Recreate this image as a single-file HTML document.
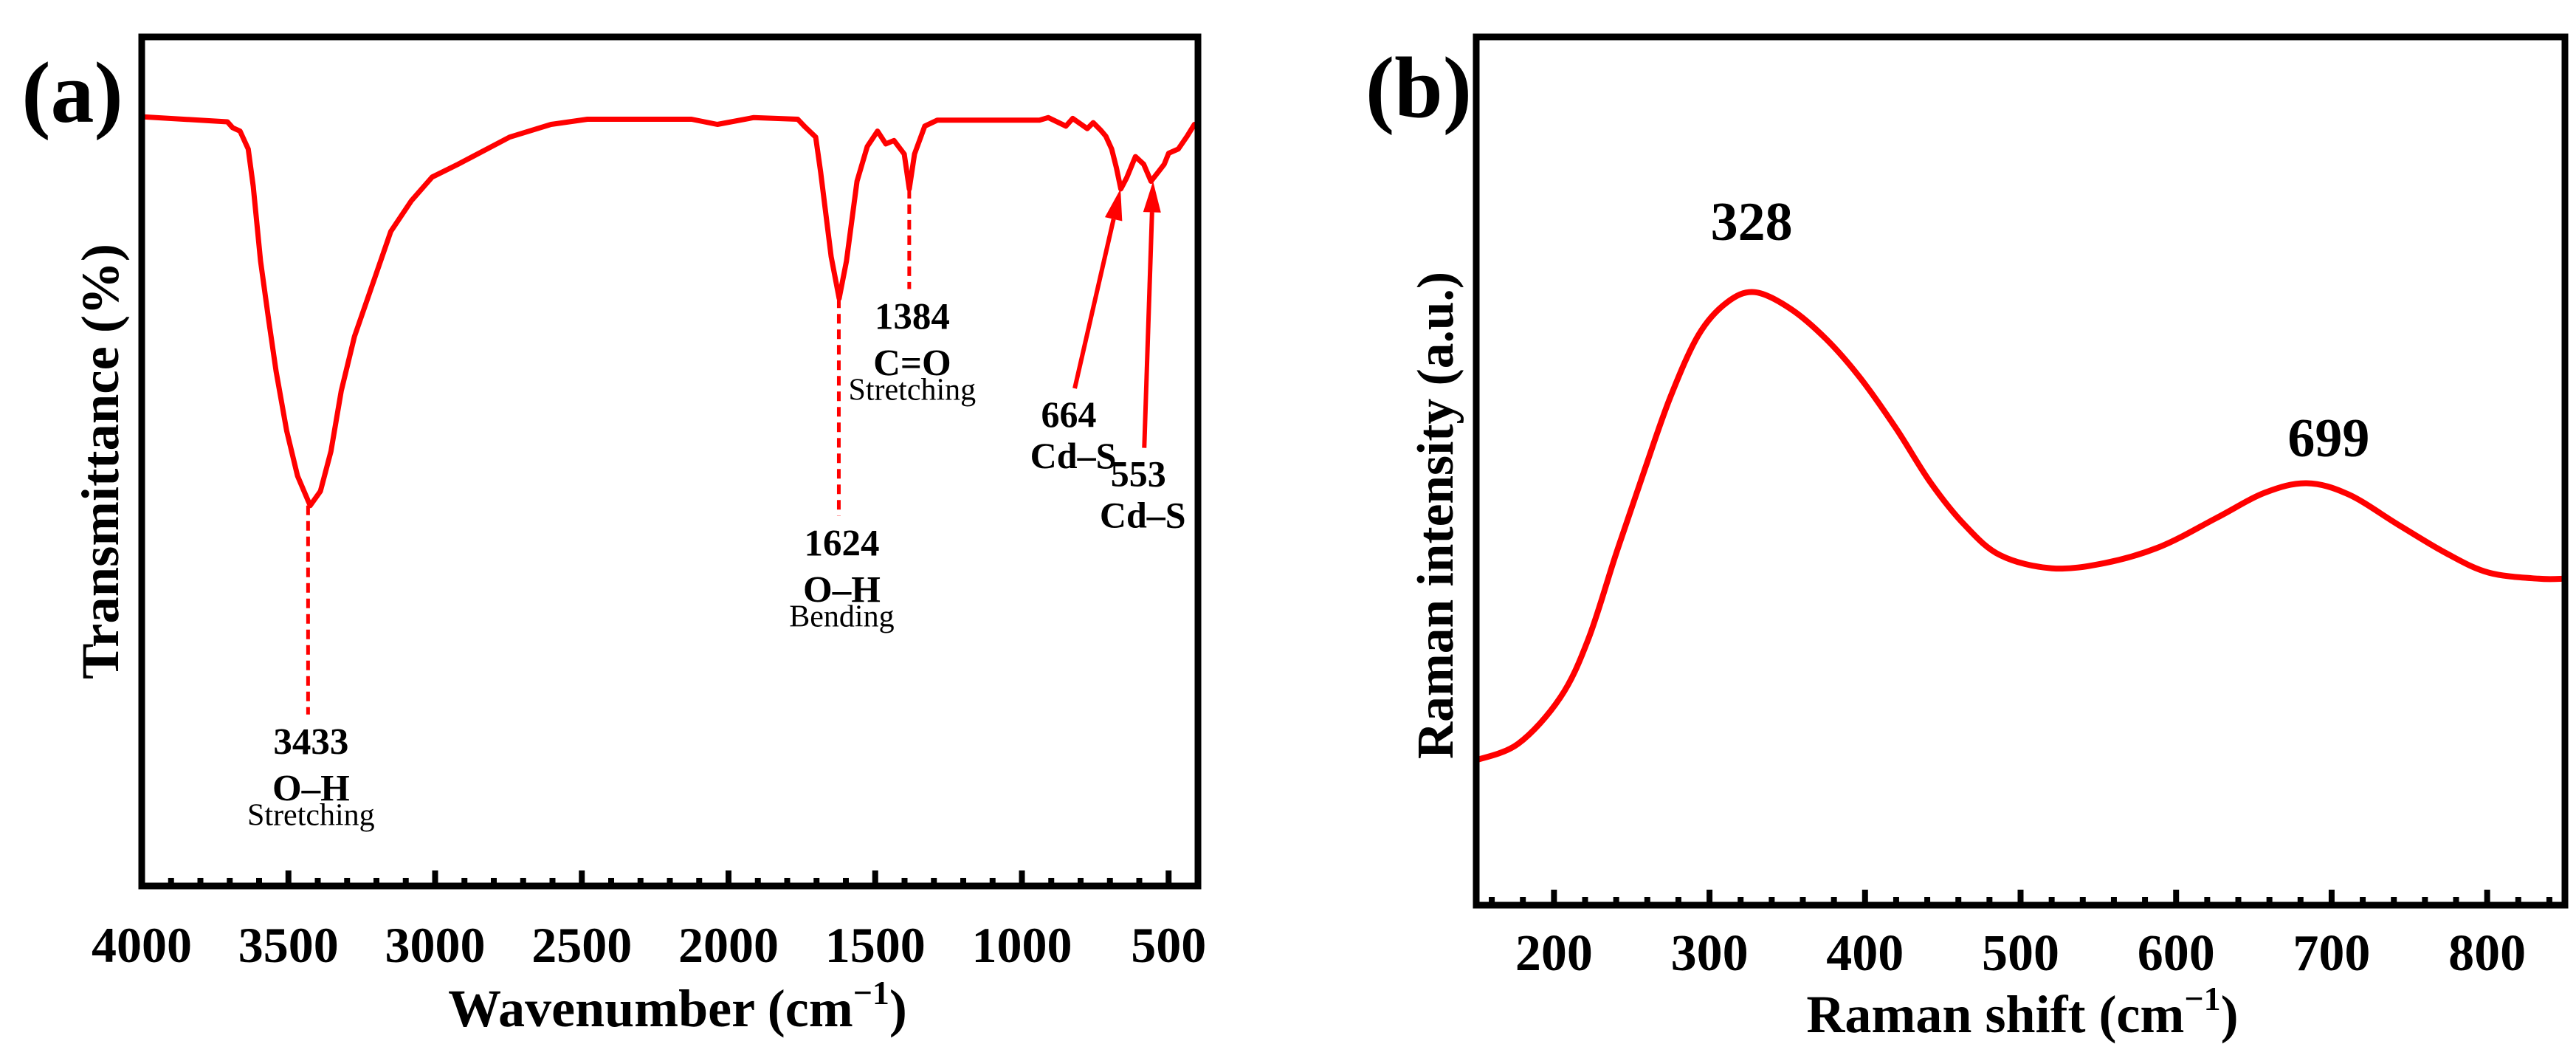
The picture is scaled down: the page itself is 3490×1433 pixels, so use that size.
<!DOCTYPE html>
<html><head><meta charset="utf-8"><style>
html,body{margin:0;padding:0;background:#fff;}
svg{display:block;font-family:"Liberation Serif","Times New Roman",serif;}
</style></head><body>
<svg id="fig" width="3490" height="1433" viewBox="0 0 3490 1433" xmlns="http://www.w3.org/2000/svg">
<rect width="3490" height="1433" fill="#fff"/>
<g id="pa"></g>
<g id="pb"></g>
</svg>
<script>
// ---------- Panel (a) FTIR data ----------
const ftirWavenumber = [4000,3708,3690,3665,3637,3620,3595,3567,3542,3506,3469,3426,3391,3355,3320,3275,3222,3151,3081,3010,2922,2746,2605,2481,2126,2038,1915,1764,1739,1703,1686,1650,1623,1598,1562,1527,1492,1464,1436,1401,1384,1366,1331,1288,1230,940,910,850,827,777,757,731,714,694,678,663,643,613,585,560,535,515,500,467,437,412];
const ftirTransmittance = [90.6,90.0,89.3,88.9,86.8,82.4,73.6,66.6,60.6,53.6,48.3,44.8,46.5,51.2,58.3,64.7,70.0,77.1,80.7,83.5,85.0,88.2,89.7,90.3,90.3,89.7,90.5,90.3,89.4,88.2,84.1,74.1,69.2,73.6,83.0,87.1,88.9,87.4,87.8,86.2,82.1,86.2,89.5,90.2,90.2,90.2,90.5,89.5,90.4,89.2,89.9,89.0,88.3,86.8,84.6,82.1,83.4,85.9,85.0,83.0,84.1,85.0,86.3,86.8,88.3,89.7];
const ftirTickLabels = ["4000","3500","3000","2500","2000","1500","1000","500"];
const ftirTickValues = [4000,3500,3000,2500,2000,1500,1000,500];
// dashed annotation peaks
const dashPeaks = [3433,1624,1384];
const dashPeakT = [44.8,69.2,82.1];
const dashEndT = [20.2,43.6,70.3];
const dashLabelNum = ["3433","1624","1384"];
const dashLabelBond = ["O\u2013H","O\u2013H","C=O"];
const dashLabelMode = ["Stretching","Bending","Stretching"];
// arrow annotations
const arrowPeaks = [664,553];
const arrowPeakT = [82.1,83.0];
const arrowTailW = [820,583];
const arrowTailT = [58.6,51.6];
const arrowLabelNum = ["664","553"];

// ---------- Panel (b) Raman data ----------
const ramanShift = [150,177,204,222,240,258,275,293,311,329,352,375,397,420,442,464,487,520,554,590,626,657,684,711,743,774,801,833,850];
const ramanIntensity = [16.7,18.6,23.9,30.6,40.5,50.0,58.6,65.7,69.4,70.6,68.7,65.2,60.7,54.9,48.7,43.8,40.3,38.8,39.4,41.3,44.6,47.5,48.6,47.3,43.8,40.5,38.3,37.6,37.6];
const ramanTickLabels = ["200","300","400","500","600","700","800"];
const ramanTickValues = [200,300,400,500,600,700,800];
const ramanPeakLabels = ["328","699"];
const ramanPeakX = [328,699];
const ramanPeakLabelY = [76.6,51.7];

const NS="http://www.w3.org/2000/svg";
function mk(tag,attrs,parent,text){const e=document.createElementNS(NS,tag);for(const k in attrs)e.setAttribute(k,attrs[k]);if(text!==undefined)e.textContent=text;parent.appendChild(e);return e;}

// ---- Axis functions ----
const A={L:192,R:1623,T:50,B:1200,x0:4000,x1:400};
const ax=w=>A.L+(A.x0-w)/(A.x0-A.x1)*(A.R-A.L);
const ay=t=>A.B-t/100*(A.B-A.T);
const Bf={L:2000,R:3475,T:50,B:1226,x0:150,x1:850};
const bx=v=>Bf.L+(v-Bf.x0)/(Bf.x1-Bf.x0)*(Bf.R-Bf.L);
const by=v=>Bf.B-v/100*(Bf.B-Bf.T);

// ---------- Draw panel (a) ----------
const pa=document.getElementById('pa');
let d='';
ftirWavenumber.forEach((w,i)=>{d+=(i?'L':'M')+ax(w).toFixed(1)+','+ay(ftirTransmittance[i]).toFixed(1);});
const fl=mk('path',{d:d,fill:'none',stroke:'#ff0000','stroke-width':7,'stroke-linejoin':'round','stroke-linecap':'round'},pa);



dashPeaks.forEach((w,i)=>{
  const ln=mk('line',{x1:ax(w),y1:ay(dashPeakT[i]),x2:ax(w),y2:ay(dashEndT[i]),stroke:'#ff0000','stroke-width':5,'stroke-dasharray':'13,8'},pa);
  
  
  const top=ay(dashEndT[i]);
  const g=mk('g',{'text-anchor':'middle'},pa);
  
  
  const cx=ax(w)+4;
  mk('text',{x:cx,y:top+54,'font-size':51,'font-weight':'bold'},g,dashLabelNum[i]);
  mk('text',{x:cx,y:top+117,'font-size':51,'font-weight':'bold'},g,dashLabelBond[i]);
  mk('text',{x:cx,y:top+150,'font-size':42},g,dashLabelMode[i]);
});

arrowPeaks.forEach((w,i)=>{
  const x1=ax(arrowTailW[i]),y1=ay(arrowTailT[i]),x2=ax(w),y2=ay(arrowPeakT[i]);
  const ang=Math.atan2(y2-y1,x2-x1),hl=42,hw=12;
  const bxp=x2-hl*Math.cos(ang),byp=y2-hl*Math.sin(ang);
  const g=mk('g',{},pa);
  
  
  mk('line',{x1:x1,y1:y1,x2:bxp,y2:byp,stroke:'#ff0000','stroke-width':6},g);
  const px=-Math.sin(ang),py=Math.cos(ang);
  mk('polygon',{points:`${x2},${y2} ${bxp+px*hw},${byp+py*hw} ${bxp-px*hw},${byp-py*hw}`,fill:'#ff0000'},g);
  const t=mk('g',{'text-anchor':'middle'},pa);
  
  
  mk('text',{x:x1-8,y:y1+52,'font-size':50,'font-weight':'bold'},t,arrowLabelNum[i]);
  mk('text',{x:x1-2,y:y1+108,'font-size':50,'font-weight':'bold'},t,'Cd\u2013S');
});

// frame (a)
const fa=mk('rect',{x:A.L,y:A.T,width:A.R-A.L,height:A.B-A.T,fill:'none',stroke:'#000','stroke-width':9},pa);


for(let w=4000;w>=400;w-=100){
  const major=w%500===0;
  const tk=mk('line',{x1:ax(w),x2:ax(w),y1:A.B,y2:A.B-(major?21:11),stroke:'#000','stroke-width':8},pa);
  
  
}
ftirTickValues.forEach((v,i)=>{
  const t=mk('text',{x:ax(v),y:1303,'font-size':68,'font-weight':'bold','text-anchor':'middle'},pa,ftirTickLabels[i]);
  
  
});
const xta=mk('text',{x:918,y:1390,'font-size':72,'font-weight':'bold','text-anchor':'middle'},pa);


xta.innerHTML='Wavenumber (cm<tspan dy="-30" font-size="46">\u22121</tspan><tspan dy="30">)</tspan>';
const yta=mk('text',{x:0,y:0,'font-size':72,'font-weight':'bold','text-anchor':'middle',transform:'translate(160,625) rotate(-90)',textLength:590,lengthAdjust:'spacingAndGlyphs'},pa,'Transmittance (%)');


const la=mk('text',{x:98,y:165,'font-size':118,'font-weight':'bold','text-anchor':'middle'},pa,'(a)');



// ---------- Draw panel (b) ----------
const pb=document.getElementById('pb');
const P=ramanShift.map((v,i)=>[bx(v),by(ramanIntensity[i])]);
let dd='M'+P[0][0].toFixed(1)+','+P[0][1].toFixed(1);
for(let i=0;i<P.length-1;i++){
  const p0=P[Math.max(0,i-1)],p1=P[i],p2=P[i+1],p3=P[Math.min(P.length-1,i+2)];
  const c1=[p1[0]+(p2[0]-p0[0])/6,p1[1]+(p2[1]-p0[1])/6];
  const c2=[p2[0]-(p3[0]-p1[0])/6,p2[1]-(p3[1]-p1[1])/6];
  dd+='C'+c1[0].toFixed(1)+','+c1[1].toFixed(1)+' '+c2[0].toFixed(1)+','+c2[1].toFixed(1)+' '+p2[0].toFixed(1)+','+p2[1].toFixed(1);
}
const rl=mk('path',{d:dd,fill:'none',stroke:'#ff0000','stroke-width':8,'stroke-linejoin':'round'},pb);


ramanPeakLabels.forEach((s,i)=>{
  const t=mk('text',{x:bx(ramanPeakX[i])-2,y:by(ramanPeakLabelY[i]),'font-size':74,'font-weight':'bold','text-anchor':'middle'},pb,s);
  
  
});
const fb=mk('rect',{x:Bf.L,y:Bf.T,width:Bf.R-Bf.L,height:Bf.B-Bf.T,fill:'none',stroke:'#000','stroke-width':9},pb);


for(let v=160;v<=840;v+=20){
  const major=v%100===0;
  const tk=mk('line',{x1:bx(v),x2:bx(v),y1:Bf.B,y2:Bf.B-(major?21:11),stroke:'#000','stroke-width':8},pb);
  
  
}
ramanTickValues.forEach((v,i)=>{
  const t=mk('text',{x:bx(v),y:1314,'font-size':70,'font-weight':'bold','text-anchor':'middle'},pb,ramanTickLabels[i]);
  
  
});
const xtb=mk('text',{x:2740,y:1398,'font-size':72,'font-weight':'bold','text-anchor':'middle'},pb);


xtb.innerHTML='Raman shift (cm<tspan dy="-30" font-size="46">\u22121</tspan><tspan dy="30">)</tspan>';
const ytb=mk('text',{x:0,y:0,'font-size':70,'font-weight':'bold','text-anchor':'middle',transform:'translate(1968,698) rotate(-90)',textLength:660,lengthAdjust:'spacingAndGlyphs'},pb,'Raman intensity (a.u.)');


const lb=mk('text',{x:1922,y:158,'font-size':118,'font-weight':'bold','text-anchor':'middle'},pb,'(b)');


</script>
</body></html>
